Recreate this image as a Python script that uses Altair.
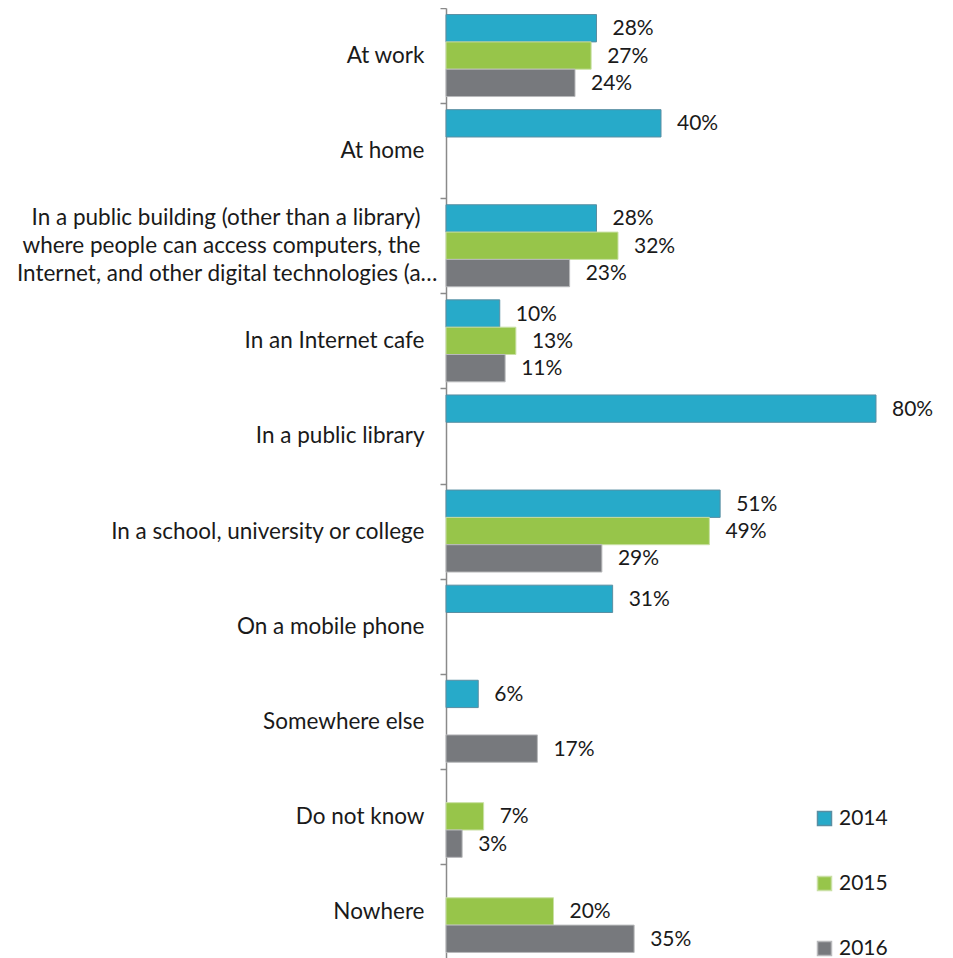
import altair as alt
import pandas as pd

PAD = "\u2800"
categories = [
    "At work",
    "At home",
    "In a public building (other than a library)" + PAD
    + "|where people can access computers, the" + PAD
    + "|Internet, and other digital technologies (a…",
    "In an Internet cafe",
    "In a public library",
    "In a school, university or college",
    "On a mobile phone",
    "Somewhere else",
    "Do not know",
    "Nowhere",
]
years = ["2014", "2015", "2016"]
v2014 = [28, 40, 28, 10, 80, 51, 31, 6, None, None]
v2015 = [27, None, 32, 13, None, 49, None, None, 7, 20]
v2016 = [24, None, 23, 11, None, 29, None, 17, 3, 35]

rows = []
for yr, vals in zip(years, [v2014, v2015, v2016]):
    for c, v in zip(categories, vals):
        if v is not None:
            rows.append({"cat": c, "year": yr, "value": v, "label": f"{v}%"})
df = pd.DataFrame(rows)

FONT = "Lato"
FS = 21
MULTI = "datum.value && indexof(datum.value, '|') >= 0"

y_enc = alt.Y(
    "cat:N",
    sort=categories,
    scale=alt.Scale(domain=categories, paddingInner=0, paddingOuter=0),
    axis=alt.Axis(
        title=None,
        grid=False,
        tickBand="extent",
        tickSize=6,
        tickWidth=1.5,
        tickColor="#8a8a8a",
        domainColor="#8a8a8a",
        domainWidth=1.5,
        labelFont=FONT,
        labelFontSize=22.5,
        labelColor="#1a1a1a",
        labelPadding=alt.condition(MULTI, alt.value(3), alt.value(16)),
        labelLimit=600,
        labelLineHeight=28,
        labelExpr="datum.value ? split(datum.value, '|') : ''",
        labelOffset=alt.condition(MULTI, alt.value(-28), alt.value(0)),
    ),
)
yoff = alt.YOffset(
    "year:N", scale=alt.Scale(domain=years, paddingOuter=0.24, paddingInner=0)
)
x_enc = alt.X("value:Q", scale=alt.Scale(domain=[0, 80], nice=False), axis=None)

bars = alt.Chart(df).mark_bar(strokeWidth=1).encode(
    y=y_enc,
    yOffset=yoff,
    x=x_enc,
    color=alt.Color(
        "year:N",
        scale=alt.Scale(domain=years, range=["#27aac9", "#97c54a", "#77797d"]),
        legend=alt.Legend(
            title=None,
            orient="none",
            legendX=368,
            legendY=800,
            direction="vertical",
            symbolType="square",
            symbolSize=196,
            labelFont=FONT,
            labelFontSize=FS,
            labelColor="#1a1a1a",
            rowPadding=43,
            labelOffset=4,
        ),
    ),
    stroke=alt.Stroke(
        "year:N",
        scale=alt.Scale(domain=years, range=["#5a8ea2", "#c9e0a4", "#b8b9bb"]),
        legend=None,
    ),
)

labels = alt.Chart(df).mark_text(
    align="left", baseline="middle", dx=16, dy=1, font=FONT, fontSize=FS, color="#1a1a1a"
).encode(y=y_enc, yOffset=yoff, x=x_enc, text="label:N")

chart = (
    alt.layer(bars, labels)
    .properties(
        width=430,
        height=951,
        autosize=alt.AutoSizeParams(type="none"),
        padding={"left": 438, "top": 0, "right": 60, "bottom": 0},
    )
    .configure_view(stroke=None)
)

chart.save("out.html", embed_options={"renderer": "svg", "actions": False})
